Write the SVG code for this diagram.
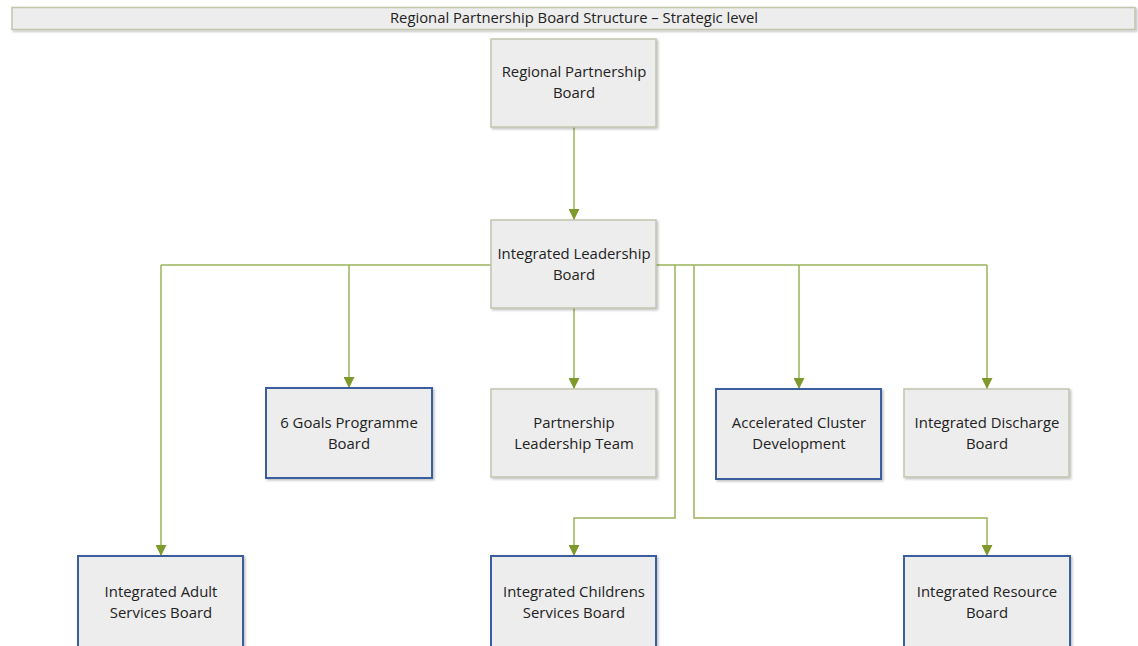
<svg xmlns="http://www.w3.org/2000/svg" width="1138" height="646" viewBox="0 0 1138 646">
  <defs>
    <filter id="shadow" x="-10%" y="-10%" width="130%" height="130%">
      <feDropShadow dx="1.5" dy="1.5" stdDeviation="1.2" flood-color="#000" flood-opacity="0.25"/>
    </filter>
    <marker id="arrow" viewBox="0 0 10 10" refX="10" refY="5" markerWidth="11" markerHeight="11" markerUnits="userSpaceOnUse" orient="auto">
      <path d="M0,0 L10,5 L0,10 Z" fill="#7f9a2c"/>
    </marker>
  </defs>
  <style>
    .box { fill: #ededed; filter: url(#shadow); stroke-width: 1.5; }
    .grey { stroke: #c2c4ad; }
    .blue { stroke: #3a5f9e; stroke-width: 2; }
    .lbl { font-family: "Open Sans", "Noto Sans", sans-serif; font-size: 14.9px; fill: #222222; text-anchor: middle; }
    .con { fill: none; stroke: #9bb35a; stroke-width: 1.5; }
    .arr { marker-end: url(#arrow); }
  </style>
  <rect width="1138" height="646" fill="#ffffff"/>

  <!-- header bar -->
  <g id="title">
    <rect class="box grey" x="12" y="7.5" width="1123" height="22"/>
    <text class="lbl" x="574" y="23" style="font-size:14.8px">Regional Partnership Board Structure – Strategic level</text>
  </g>

  <!-- connectors -->
  <g id="connectors">
    <path class="con arr" d="M574,127 V220"/>
    <path class="con" d="M491,265 H161"/>
    <path class="con arr" d="M161,265 V556"/>
    <path class="con arr" d="M349,265 V388"/>
    <path class="con arr" d="M574,308 V389"/>
    <path class="con" d="M656,265 H987"/>
    <path class="con arr" d="M987,265 V389"/>
    <path class="con arr" d="M799,265 V389"/>
    <path class="con arr" d="M675,265 V518 H574 V556"/>
    <path class="con arr" d="M694,265 V518 H987 V556"/>
  </g>

  <g id="regional-partnership-board">
    <rect class="box grey" x="491" y="39" width="165" height="88"/>
    <text class="lbl" x="574" y="77">Regional Partnership</text>
    <text class="lbl" x="574" y="98">Board</text>
  </g>

  <g id="integrated-leadership-board">
    <rect class="box grey" x="491" y="220" width="165" height="88"/>
    <text class="lbl" x="574" y="259">Integrated Leadership</text>
    <text class="lbl" x="574" y="280">Board</text>
  </g>

  <g id="six-goals-programme-board">
    <rect class="box blue" x="266" y="388" width="166" height="90"/>
    <text class="lbl" x="349" y="428">6 Goals Programme</text>
    <text class="lbl" x="349" y="449">Board</text>
  </g>

  <g id="partnership-leadership-team">
    <rect class="box grey" x="491" y="389" width="165" height="88"/>
    <text class="lbl" x="574" y="428">Partnership</text>
    <text class="lbl" x="574" y="449">Leadership Team</text>
  </g>

  <g id="accelerated-cluster-development">
    <rect class="box blue" x="716" y="389" width="165" height="90"/>
    <text class="lbl" x="799" y="428">Accelerated Cluster</text>
    <text class="lbl" x="799" y="449">Development</text>
  </g>

  <g id="integrated-discharge-board">
    <rect class="box grey" x="904" y="389" width="165" height="88"/>
    <text class="lbl" x="987" y="428">Integrated Discharge</text>
    <text class="lbl" x="987" y="449">Board</text>
  </g>

  <g id="integrated-adult-services-board">
    <rect class="box blue" x="78" y="556" width="165" height="100"/>
    <text class="lbl" x="161" y="597">Integrated Adult</text>
    <text class="lbl" x="161" y="618">Services Board</text>
  </g>

  <g id="integrated-childrens-services-board">
    <rect class="box blue" x="491" y="556" width="165" height="100"/>
    <text class="lbl" x="574" y="597">Integrated Childrens</text>
    <text class="lbl" x="574" y="618">Services Board</text>
  </g>

  <g id="integrated-resource-board">
    <rect class="box blue" x="904" y="556" width="166" height="100"/>
    <text class="lbl" x="987" y="597">Integrated Resource</text>
    <text class="lbl" x="987" y="618">Board</text>
  </g>
</svg>
